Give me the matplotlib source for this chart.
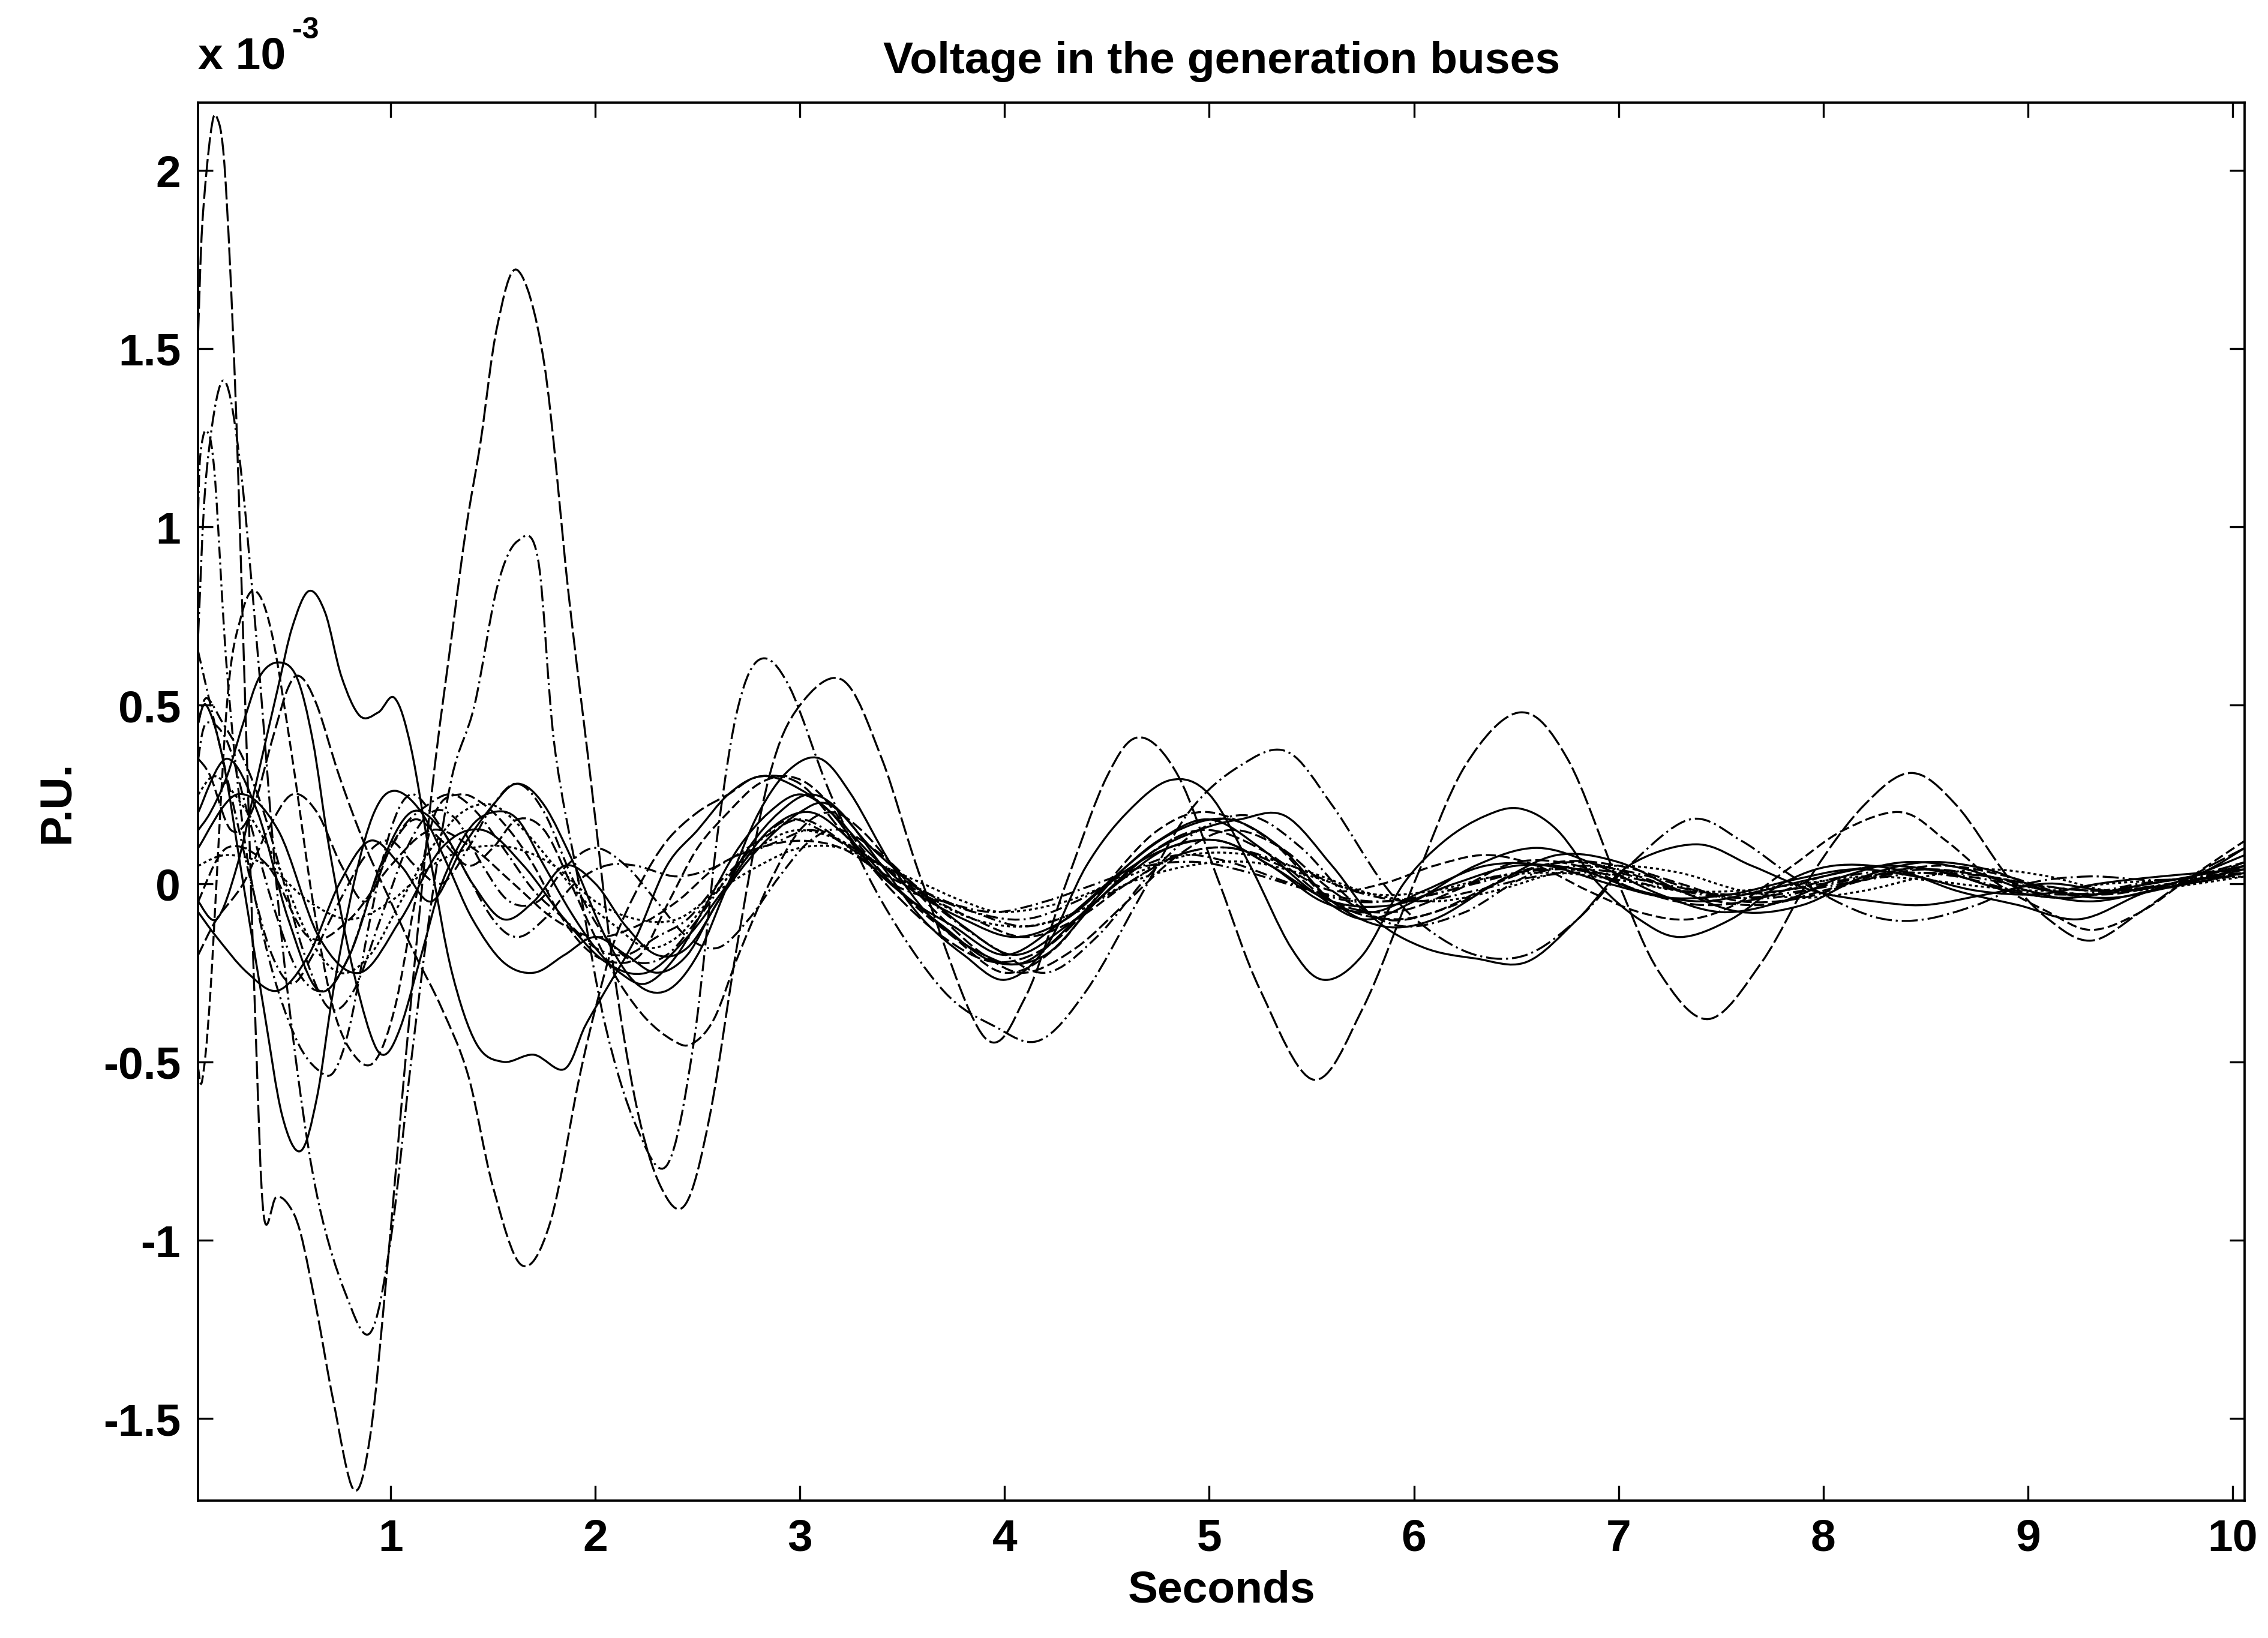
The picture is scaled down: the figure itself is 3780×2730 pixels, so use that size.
import numpy as np
import matplotlib
matplotlib.use('Agg')
import matplotlib.pyplot as plt
from matplotlib.path import Path
from matplotlib.patches import PathPatch

plt.rcParams['font.family'] = ['Liberation Sans', 'DejaVu Sans']
plt.rcParams['font.weight'] = 'bold'

# Voltage deviation of the generation buses (P.U. x 1e-3)
bus1_t = [0.06, 0.08, 0.12, 0.15, 0.19, 0.24, 0.29, 0.34, 0.38, 0.44, 0.50, 0.56, 0.64, 0.72, 0.82, 0.90, 0.98,
          1.08, 1.20, 1.30, 1.37, 1.44, 1.52, 1.62, 1.75, 1.87, 1.97, 2.08, 2.20, 2.32, 2.44, 2.56, 2.70, 2.85,
          3.00, 3.21, 3.40, 3.60, 3.90, 4.10, 4.30, 4.50, 4.66, 4.85, 5.05, 5.25, 5.51, 5.75, 6.00, 6.25, 6.52,
          6.75, 7.00, 7.20, 7.44, 7.70, 7.95, 8.20, 8.43, 8.65, 8.90, 9.10, 9.31, 9.55, 9.80, 10.06]
bus1_v = [1.55, 1.85, 2.10, 2.15, 2.00, 1.40, 0.50, -0.40, -0.93, -0.88, -0.90, -0.98, -1.20, -1.45, -1.70,
          -1.55, -1.10, -0.45, 0.25, 0.70, 1.00, 1.24, 1.56, 1.72, 1.46, 0.81, 0.33, -0.20, -0.62, -0.85, -0.90,
          -0.65, -0.15, 0.30, 0.50, 0.57, 0.35, 0.00, -0.43, -0.32, 0.00, 0.30, 0.41, 0.30, 0.00, -0.30, -0.55,
          -0.35, 0.00, 0.33, 0.48, 0.35, 0.00, -0.25, -0.38, -0.22, 0.03, 0.22, 0.31, 0.22, 0.02, -0.10, -0.16,
          -0.08, 0.02, 0.10]

bus2_t = [0.06, 0.10, 0.18, 0.26, 0.35, 0.45, 0.55, 0.65, 0.78, 0.90, 1.00, 1.10, 1.20, 1.30, 1.41, 1.52, 1.62,
          1.72, 1.80, 1.92, 2.05, 2.20, 2.35, 2.48, 2.60, 2.70, 2.81, 2.95, 3.15, 3.40, 3.70, 3.95, 4.17, 4.40,
          4.65, 4.90, 5.15, 5.38, 5.60, 5.85, 6.05, 6.30, 6.55, 6.80, 7.05, 7.35, 7.60, 7.85, 8.10, 8.30, 8.50,
          8.75, 9.00, 9.30, 9.60, 9.85, 10.06]
bus2_v = [0.70, 1.15, 1.41, 1.20, 0.65, -0.05, -0.55, -0.90, -1.15, -1.26, -1.00, -0.50, -0.05, 0.30, 0.50,
          0.83, 0.96, 0.91, 0.39, 0.00, -0.40, -0.68, -0.79, -0.45, 0.15, 0.50, 0.63, 0.55, 0.25, -0.05, -0.30,
          -0.40, -0.44, -0.30, -0.05, 0.20, 0.33, 0.37, 0.22, 0.00, -0.12, -0.20, -0.20, -0.10, 0.05, 0.18, 0.12,
          0.02, -0.06, -0.10, -0.10, -0.06, 0.00, 0.02, 0.01, 0.02, 0.06]

bus3_t = [0.06, 0.07, 0.10, 0.14, 0.20, 0.28, 0.36, 0.45, 0.55, 0.64, 0.72, 0.80, 0.90, 1.00, 1.10, 1.22, 1.35,
          1.50, 1.62, 1.75, 1.90, 2.05, 2.20, 2.40, 2.60, 2.80, 3.00, 3.20, 3.45, 3.70, 3.95, 4.20, 4.45, 4.70,
          4.95, 5.20, 5.50, 5.80, 6.10, 6.40, 6.70, 7.00, 7.30, 7.60, 7.90, 8.20, 8.50, 8.80, 9.10, 9.40, 9.70,
          10.06]
bus3_v = [1.05, 1.20, 1.27, 1.15, 0.60, 0.15, -0.10, -0.30, -0.45, -0.52, -0.53, -0.40, -0.10, 0.15, 0.25,
          0.18, 0.05, -0.10, -0.15, -0.10, 0.00, 0.05, 0.05, 0.02, 0.05, 0.12, 0.18, 0.12, 0.00, -0.05, -0.08,
          -0.05, 0.00, 0.05, 0.06, 0.03, -0.02, -0.05, -0.03, 0.02, 0.04, 0.03, -0.02, -0.04, -0.02, 0.01, 0.03,
          0.02, -0.01, -0.02, 0.00, 0.03]

bus4_t = [0.06, 0.15, 0.25, 0.35, 0.45, 0.52, 0.60, 0.68, 0.76, 0.85, 0.94, 1.02, 1.10, 1.20, 1.30, 1.42, 1.55,
          1.70, 1.85, 1.95, 2.05, 2.20, 2.35, 2.50, 2.65, 2.80, 2.95, 3.15, 3.35, 3.55, 3.75, 4.00, 4.25, 4.50,
          4.75, 5.00, 5.25, 5.50, 5.75, 6.00, 6.30, 6.60, 6.90, 7.20, 7.50, 7.80, 8.10, 8.40, 8.70, 9.00, 9.30,
          9.60, 9.90, 10.06]
bus4_v = [-0.05, -0.10, 0.05, 0.30, 0.55, 0.72, 0.82, 0.76, 0.58, 0.47, 0.48, 0.52, 0.38, 0.05, -0.25, -0.45,
          -0.50, -0.48, -0.52, -0.40, -0.30, -0.15, 0.05, 0.15, 0.25, 0.30, 0.28, 0.20, 0.05, -0.05, -0.12, -0.20,
          -0.12, 0.00, 0.12, 0.18, 0.10, -0.02, -0.10, -0.05, 0.05, 0.10, 0.05, -0.03, -0.08, -0.05, 0.02, 0.06,
          0.04, -0.02, -0.05, -0.02, 0.02, 0.05]

bus5_t = [0.06, 0.12, 0.22, 0.32, 0.42, 0.50, 0.56, 0.64, 0.75, 0.88, 1.00, 1.12, 1.25, 1.38, 1.50, 1.64, 1.78,
          1.92, 2.01, 2.10, 2.22, 2.35, 2.50, 2.65, 2.80, 3.00, 3.20, 3.45, 3.70, 3.95, 4.20, 4.45, 4.75, 5.00,
          5.30, 5.60, 5.90, 6.20, 6.50, 6.80, 7.10, 7.40, 7.70, 8.00, 8.30, 8.60, 8.90, 9.20, 9.50, 9.80, 10.06]
bus5_v = [0.35, 0.30, 0.15, 0.20, 0.40, 0.55, 0.58, 0.50, 0.30, 0.10, -0.05, -0.20, -0.35, -0.54, -0.85, -1.07,
          -0.95, -0.55, -0.33, -0.15, 0.00, 0.12, 0.20, 0.25, 0.30, 0.28, 0.15, -0.02, -0.15, -0.22, -0.18, -0.05,
          0.10, 0.15, 0.08, -0.05, -0.08, -0.02, 0.06, 0.05, -0.02, -0.06, -0.04, 0.02, 0.05, 0.03, -0.02, -0.04,
          -0.01, 0.02, 0.06]

bus6_t = [0.06, 0.10, 0.18, 0.28, 0.38, 0.47, 0.56, 0.64, 0.72, 0.82, 0.92, 1.02, 1.15, 1.28, 1.40, 1.55, 1.70,
          1.85, 2.00, 2.15, 2.30, 2.45, 2.60, 2.80, 3.00, 3.15, 3.35, 3.55, 3.80, 4.05, 4.30, 4.55, 4.80, 5.05,
          5.30, 5.55, 5.80, 6.05, 6.35, 6.65, 6.95, 7.25, 7.55, 7.85, 8.15, 8.45, 8.75, 9.05, 9.35, 9.65, 10.06]
bus6_v = [0.45, 0.50, 0.35, 0.00, -0.35, -0.65, -0.75, -0.60, -0.30, 0.00, 0.20, 0.26, 0.20, 0.05, -0.10, -0.22,
          -0.25, -0.20, -0.15, -0.20, -0.25, -0.20, -0.05, 0.10, 0.20, 0.22, 0.10, 0.00, -0.12, -0.20, -0.12, 0.00,
          0.10, 0.12, 0.05, -0.05, -0.08, -0.02, 0.05, 0.05, 0.00, -0.04, -0.03, 0.01, 0.04, 0.02, -0.02, -0.03,
          0.00, 0.02, 0.04]

bus7_t = [0.06, 0.08, 0.12, 0.20, 0.27, 0.34, 0.42, 0.52, 0.62, 0.72, 0.82, 0.92, 1.02, 1.12, 1.22, 1.34, 1.46,
          1.58, 1.70, 1.82, 1.95, 2.08, 2.22, 2.36, 2.50, 2.65, 2.80, 2.95, 3.10, 3.30, 3.50, 3.75, 4.00, 4.25,
          4.50, 4.75, 5.00, 5.30, 5.60, 5.90, 6.20, 6.50, 6.80, 7.10, 7.40, 7.70, 8.00, 8.30, 8.60, 8.90, 9.20,
          9.50, 9.80, 10.06]
bus7_v = [-0.52, -0.55, -0.30, 0.50, 0.75, 0.82, 0.70, 0.35, -0.05, -0.35, -0.48, -0.50, -0.35, -0.05, 0.20,
          0.25, 0.22, 0.15, 0.05, -0.08, -0.18, -0.22, -0.20, -0.05, 0.10, 0.20, 0.28, 0.30, 0.25, 0.10, -0.03,
          -0.15, -0.25, -0.18, 0.00, 0.15, 0.20, 0.12, -0.05, -0.10, -0.06, 0.03, 0.06, 0.02, -0.04, -0.06, -0.02,
          0.03, 0.05, 0.02, -0.03, -0.02, 0.01, 0.04]

bus8_t = [0.06, 0.12, 0.20, 0.28, 0.36, 0.45, 0.54, 0.62, 0.70, 0.80, 0.90, 0.97, 1.05, 1.15, 1.25, 1.38, 1.50,
          1.62, 1.75, 1.88, 2.00, 2.12, 2.25, 2.40, 2.55, 2.70, 2.85, 3.00, 3.15, 3.35, 3.55, 3.80, 4.05, 4.30,
          4.55, 4.80, 5.05, 5.30, 5.60, 5.90, 6.20, 6.50, 6.80, 7.10, 7.40, 7.70, 8.00, 8.30, 8.60, 8.90, 9.20,
          9.50, 9.80, 10.06]
bus8_v = [0.15, 0.20, 0.30, 0.45, 0.58, 0.62, 0.58, 0.40, 0.10, -0.20, -0.42, -0.48, -0.40, -0.20, 0.00, 0.15,
          0.20, 0.18, 0.05, -0.08, -0.18, -0.25, -0.28, -0.20, -0.05, 0.10, 0.20, 0.25, 0.20, 0.08, -0.02, -0.10,
          -0.15, -0.10, 0.02, 0.10, 0.12, 0.05, -0.05, -0.06, 0.00, 0.05, 0.04, -0.02, -0.05, -0.02, 0.02, 0.05,
          0.03, -0.02, -0.04, -0.01, 0.02, 0.05]

bus9_t = [0.06, 0.12, 0.22, 0.32, 0.42, 0.52, 0.62, 0.75, 0.88, 1.00, 1.12, 1.25, 1.38, 1.50, 1.62, 1.75, 1.90,
          2.05, 2.20, 2.35, 2.50, 2.65, 2.80, 2.95, 3.10, 3.30, 3.50, 3.70, 3.95, 4.20, 4.45, 4.70, 4.95, 5.20,
          5.45, 5.70, 5.95, 6.25, 6.55, 6.85, 7.15, 7.45, 7.75, 8.05, 8.35, 8.65, 8.95, 9.25, 9.55, 9.85, 10.06]
bus9_v = [0.65, 0.50, 0.25, 0.00, -0.20, -0.28, -0.20, -0.05, 0.08, 0.12, 0.05, 0.00, 0.10, 0.22, 0.28, 0.20,
          0.00, -0.15, -0.22, -0.20, -0.10, 0.02, 0.12, 0.18, 0.15, 0.08, 0.02, -0.08, -0.18, -0.25, -0.15, 0.02,
          0.15, 0.19, 0.10, -0.05, -0.12, -0.08, 0.02, 0.05, 0.02, -0.03, -0.04, 0.00, 0.03, 0.02, -0.02, -0.03,
          0.00, 0.02, 0.03]

bus10_t = [0.06, 0.20, 0.40, 0.60, 0.80, 1.00, 1.20, 1.40, 1.60, 1.80, 2.00, 2.20, 2.40, 2.60, 2.80, 3.00, 3.20,
           3.40, 3.60, 3.80, 4.00, 4.30, 4.60, 4.90, 5.20, 5.50, 5.80, 6.10, 6.40, 6.70, 7.00, 7.30, 7.60, 7.90,
           8.20, 8.50, 8.80, 9.10, 9.40, 9.70, 10.06]
bus10_v = [0.05, 0.08, 0.05, -0.05, -0.10, -0.05, 0.05, 0.10, 0.10, 0.05, -0.05, -0.10, -0.10, -0.02, 0.05, 0.10,
           0.10, 0.05, 0.00, -0.05, -0.08, -0.05, 0.02, 0.08, 0.08, 0.03, -0.03, -0.05, -0.02, 0.03, 0.05, 0.03,
           -0.02, -0.04, -0.02, 0.02, 0.04, 0.02, -0.02, -0.01, 0.02]

bus11_t = [0.06, 0.15, 0.30, 0.45, 0.60, 0.75, 0.90, 1.05, 1.20, 1.35, 1.50, 1.62, 1.75, 1.90, 2.05, 2.20, 2.35,
           2.50, 2.65, 2.80, 2.95, 3.10, 3.25, 3.45, 3.65, 3.90, 4.10, 4.35, 4.60, 4.85, 5.10, 5.35, 5.60, 5.85,
           6.10, 6.40, 6.70, 7.00, 7.30, 7.60, 7.90, 8.20, 8.50, 8.80, 9.10, 9.40, 9.70, 10.06]
bus11_v = [-0.08, -0.15, -0.25, -0.30, -0.20, 0.00, 0.12, 0.05, -0.05, 0.10, 0.22, 0.28, 0.22, 0.05, -0.15,
           -0.28, -0.30, -0.20, 0.00, 0.20, 0.32, 0.35, 0.25, 0.05, -0.10, -0.20, -0.22, -0.10, 0.05, 0.15, 0.18,
           0.10, -0.05, -0.12, -0.10, 0.00, 0.08, 0.06, -0.02, -0.08, -0.06, 0.02, 0.06, 0.04, -0.02, -0.04, -0.01,
           0.03]

bus12_t = [0.06, 0.15, 0.28, 0.40, 0.52, 0.64, 0.76, 0.88, 1.00, 1.12, 1.25, 1.38, 1.50, 1.62, 1.75, 1.88, 2.00,
           2.12, 2.25, 2.38, 2.47, 2.58, 2.70, 2.85, 3.00, 3.15, 3.30, 3.50, 3.70, 3.90, 4.10, 4.35, 4.60, 4.85,
           5.10, 5.35, 5.60, 5.85, 6.10, 6.40, 6.70, 7.00, 7.30, 7.60, 7.90, 8.20, 8.50, 8.80, 9.10, 9.40, 9.70,
           10.06]
bus12_v = [-0.20, -0.10, 0.00, 0.15, 0.25, 0.20, 0.05, -0.05, 0.10, 0.18, 0.12, 0.05, 0.10, 0.18, 0.15, 0.00,
           -0.15, -0.28, -0.38, -0.44, -0.45, -0.38, -0.20, 0.00, 0.15, 0.20, 0.15, 0.02, -0.10, -0.20, -0.25,
           -0.18, -0.05, 0.08, 0.15, 0.10, -0.02, -0.10, -0.08, 0.00, 0.06, 0.05, 0.00, -0.05, -0.04, 0.01, 0.04,
           0.02, -0.02, -0.03, 0.00, 0.03]

bus13_t = [0.06, 0.10, 0.20, 0.30, 0.42, 0.55, 0.68, 0.80, 0.92, 1.05, 1.18, 1.30, 1.42, 1.55, 1.70, 1.85, 2.00,
           2.15, 2.30, 2.45, 2.60, 2.75, 2.90, 3.05, 3.20, 3.40, 3.60, 3.85, 4.10, 4.35, 4.60, 4.85, 5.10, 5.40,
           5.70, 6.00, 6.30, 6.60, 6.90, 7.20, 7.50, 7.80, 8.10, 8.40, 8.70, 9.00, 9.30, 9.60, 9.90, 10.06]
bus13_v = [0.35, 0.45, 0.40, 0.20, -0.05, -0.25, -0.30, -0.20, 0.00, 0.15, 0.22, 0.25, 0.20, 0.10, -0.02, -0.10,
           -0.18, -0.20, -0.15, -0.10, 0.00, 0.08, 0.12, 0.15, 0.12, 0.05, -0.02, -0.08, -0.12, -0.08, 0.00, 0.08,
           0.10, 0.05, -0.02, -0.05, -0.02, 0.02, 0.03, 0.00, -0.03, -0.02, 0.02, 0.04, 0.03, 0.00, -0.02, -0.01,
           0.01, 0.03]

bus14_t = [0.06, 0.20, 0.35, 0.50, 0.65, 0.80, 0.95, 1.10, 1.25, 1.40, 1.55, 1.70, 1.85, 2.00, 2.15, 2.30, 2.45,
           2.60, 2.75, 2.90, 3.05, 3.20, 3.40, 3.60, 3.80, 4.00, 4.20, 4.40, 4.60, 4.81, 5.00, 5.20, 5.40, 5.56,
           5.75, 5.95, 6.15, 6.35, 6.52, 6.70, 6.90, 7.10, 7.30, 7.55, 7.80, 8.05, 8.35, 8.65, 8.95, 9.25, 9.55,
           9.85, 10.06]
bus14_v = [0.20, 0.35, 0.20, -0.10, -0.30, -0.20, 0.05, 0.20, 0.15, 0.00, -0.10, -0.05, 0.05, 0.00, -0.12, -0.20,
           -0.18, -0.05, 0.10, 0.20, 0.25, 0.20, 0.05, -0.10, -0.20, -0.27, -0.18, 0.05, 0.20, 0.29, 0.25, 0.05,
           -0.18, -0.27, -0.20, 0.00, 0.12, 0.19, 0.21, 0.15, 0.00, -0.10, -0.15, -0.10, 0.00, 0.05, 0.04, -0.02,
           -0.06, -0.10, -0.03, 0.03, 0.10]

bus15_t = [0.06, 0.25, 0.45, 0.65, 0.85, 1.05, 1.25, 1.45, 1.65, 1.85, 2.05, 2.25, 2.45, 2.65, 2.85, 3.05, 3.25,
           3.45, 3.70, 3.95, 4.20, 4.45, 4.70, 4.95, 5.15, 5.37, 5.60, 5.81, 6.05, 6.30, 6.55, 6.80, 7.05, 7.38,
           7.65, 7.95, 8.25, 8.50, 8.80, 9.10, 9.40, 9.70, 10.06]
bus15_v = [0.10, 0.25, 0.15, -0.15, -0.25, -0.10, 0.10, 0.15, 0.05, -0.10, -0.22, -0.25, -0.15, 0.00, 0.15, 0.20,
           0.12, 0.00, -0.12, -0.22, -0.20, -0.05, 0.08, 0.15, 0.18, 0.19, 0.05, -0.10, -0.18, -0.21, -0.22, -0.10,
           0.05, 0.11, 0.05, -0.02, -0.05, -0.06, -0.03, 0.00, -0.02, 0.00, 0.08]

bus16_t = [0.06, 0.20, 0.40, 0.60, 0.80, 1.00, 1.20, 1.40, 1.60, 1.80, 2.00, 2.20, 2.40, 2.60, 2.80, 3.00, 3.20,
           3.40, 3.60, 3.85, 4.10, 4.35, 4.60, 4.85, 5.10, 5.35, 5.60, 5.85, 6.10, 6.35, 6.60, 6.85, 7.10, 7.35,
           7.60, 7.85, 8.10, 8.38, 8.60, 8.85, 9.10, 9.31, 9.55, 9.80, 10.06]
bus16_v = [-0.05, 0.10, 0.05, -0.15, -0.10, 0.05, 0.15, 0.10, 0.00, -0.10, -0.15, -0.12, -0.05, 0.05, 0.10, 0.12,
           0.10, 0.03, -0.03, -0.10, -0.15, -0.10, 0.00, 0.08, 0.10, 0.05, -0.02, 0.00, 0.05, 0.08, 0.05, -0.02,
           -0.08, -0.10, -0.05, 0.05, 0.15, 0.20, 0.12, 0.00, -0.08, -0.13, -0.08, 0.02, 0.12]

bus17_t = [0.06, 0.10, 0.18, 0.28, 0.38, 0.48, 0.58, 0.70, 0.82, 0.95, 1.08, 1.20, 1.32, 1.45, 1.58, 1.72, 1.86,
           2.00, 2.15, 2.30, 2.45, 2.60, 2.75, 2.90, 3.05, 3.20, 3.40, 3.60, 3.85, 4.10, 4.35, 4.60, 4.85, 5.10,
           5.40, 5.70, 6.00, 6.30, 6.60, 6.90, 7.20, 7.50, 7.80, 8.10, 8.40, 8.70, 9.00, 9.30, 9.60, 9.90, 10.06]
bus17_v = [0.45, 0.52, 0.45, 0.35, 0.20, 0.00, -0.20, -0.35, -0.30, -0.10, 0.10, 0.20, 0.18, 0.05, -0.05, -0.05,
           0.05, 0.10, 0.05, -0.05, -0.15, -0.18, -0.10, 0.02, 0.12, 0.15, 0.08, -0.02, -0.08, -0.10, -0.05, 0.03,
           0.08, 0.06, 0.00, -0.05, -0.04, 0.00, 0.04, 0.03, -0.01, -0.03, -0.02, 0.01, 0.03, 0.02, -0.01, -0.03,
           -0.01, 0.02, 0.04]

bus18_t = [0.06, 0.15, 0.30, 0.45, 0.60, 0.75, 0.90, 1.05, 1.20, 1.35, 1.50, 1.65, 1.80, 1.95, 2.10, 2.25, 2.40,
           2.55, 2.70, 2.85, 3.00, 3.20, 3.40, 3.60, 3.85, 4.10, 4.35, 4.60, 4.90, 5.20, 5.50, 5.80, 6.10, 6.40,
           6.70, 7.00, 7.30, 7.60, 7.90, 8.20, 8.50, 8.80, 9.10, 9.40, 9.70, 10.06]
bus18_v = [0.25, 0.30, 0.20, 0.05, -0.15, -0.25, -0.20, -0.05, 0.10, 0.20, 0.22, 0.15, 0.05, -0.05, -0.12, -0.18,
           -0.15, -0.05, 0.05, 0.12, 0.15, 0.12, 0.05, -0.03, -0.10, -0.12, -0.08, 0.00, 0.05, 0.06, 0.02, -0.03,
           -0.02, 0.02, 0.03, 0.01, -0.02, -0.02, 0.00, 0.02, 0.01, -0.01, -0.02, 0.00, 0.01, 0.02]

y_ticks = [-1.5, -1, -0.5, 0, 0.5, 1, 1.5, 2]
y_tick_labels = ['-1.5', '-1', '-0.5', '0', '0.5', '1', '1.5', '2']
x_ticks = [1, 2, 3, 4, 5, 6, 7, 8, 9, 10]

buses = [(bus1_t, bus1_v), (bus2_t, bus2_v), (bus3_t, bus3_v), (bus4_t, bus4_v), (bus5_t, bus5_v),
         (bus6_t, bus6_v), (bus7_t, bus7_v), (bus8_t, bus8_v), (bus9_t, bus9_v), (bus10_t, bus10_v),
         (bus11_t, bus11_v), (bus12_t, bus12_v), (bus13_t, bus13_v), (bus14_t, bus14_v), (bus15_t, bus15_v),
         (bus16_t, bus16_v), (bus17_t, bus17_v), (bus18_t, bus18_v)]

# matlab-ish line style cycle
styles = [(0, (9, 2)), (0, (8, 2, 1, 2)), (0, (6, 2, 1, 2)), '-', (0, (7, 2)), '-', (0, (5, 2)), '-',
          (0, (6, 2, 1, 2)), (0, (1.5, 1.5)), '-', (0, (6, 2)), (0, (6, 2, 1, 2)), '-', '-', (0, (5, 2)),
          (0, (6, 2, 1, 2)), (0, (1.5, 1.5))]


def curve_through(t, v):
    # bezier path that passes through every read point (catmull-rom tangents)
    p = np.column_stack([t, v])
    verts = [p[0]]
    codes = [Path.MOVETO]
    n = len(p)
    for i in range(n - 1):
        p0 = p[i - 1] if i > 0 else p[i]
        p1, p2 = p[i], p[i + 1]
        p3 = p[i + 2] if i + 2 < n else p[i + 1]
        verts += [p1 + (p2 - p0) / 6, p2 - (p3 - p1) / 6, p2]
        codes += [Path.CURVE4] * 3
    return Path(verts, codes)


fig = plt.figure(figsize=(12.6, 9.103), dpi=300)
ax = fig.add_axes([0.0874, 0.0839, 0.9024, 0.8532])

for (t, v), ls in zip(buses, styles):
    ax.add_patch(PathPatch(curve_through(t, v), fill=False, edgecolor='black',
                           linewidth=0.8, linestyle=ls, clip_on=True))

ax.set_xlim(0.06, 10.06)
ax.set_ylim(-1.73, 2.19)
ax.set_xticks(x_ticks)
ax.set_yticks(y_ticks)
ax.set_yticklabels(y_tick_labels)
ax.tick_params(direction='in', top=True, right=True, length=6, width=0.8, labelsize=18, pad=7)
for s in ax.spines.values():
    s.set_linewidth(0.9)

ax.set_title('Voltage in the generation buses', fontsize=18, fontweight='bold', pad=12)
ax.set_xlabel('Seconds', fontsize=18, fontweight='bold', labelpad=4)
ax.set_ylabel('P.U.', fontsize=18, fontweight='bold', labelpad=10)

ax.text(0.0, 1.018, 'x 10', transform=ax.transAxes, fontsize=18, fontweight='bold', ha='left', va='bottom')
ax.text(0.046, 1.042, '-3', transform=ax.transAxes, fontsize=12, fontweight='bold', ha='left', va='bottom')

fig.savefig('out.png', dpi=300)
